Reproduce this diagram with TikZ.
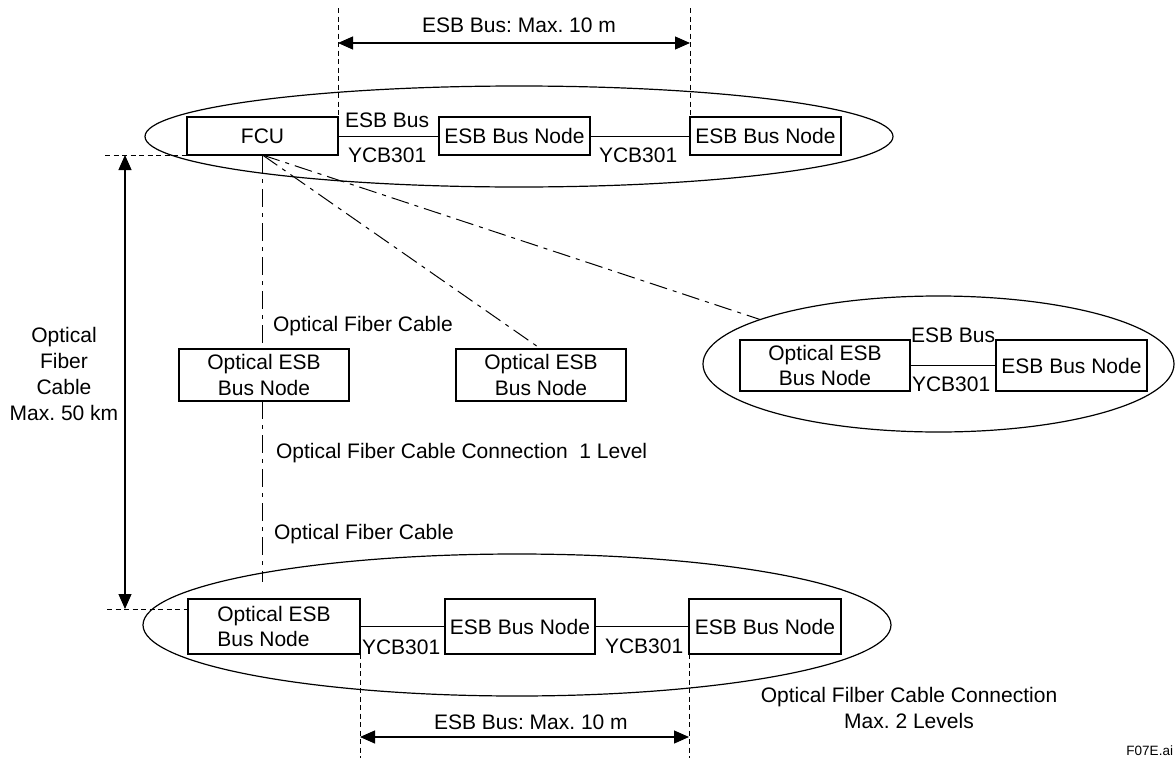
\documentclass[tikz,border=0pt]{standalone}
\usepackage{fontspec}
\setmainfont{Liberation Sans}
\usetikzlibrary{shapes.geometric,arrows.meta}

\begin{document}
\frenchspacing
\begin{tikzpicture}[x=1pt,y=-1pt,
  every node/.style={inner sep=0pt, outer sep=0pt},
  lab/.style={font=\fontsize{21}{25.7}\selectfont},
  unit/.style={draw, line width=1.2pt, fill=white, lab, align=center, minimum height=38pt},
  group/.style={draw, ellipse, line width=1.2pt},
  link/.style={line width=1pt},
  dim/.style={line width=0.9pt, dash pattern=on 5pt off 3.5pt},
  fiber/.style={line width=1pt, dash pattern=on 18pt off 6pt on 4pt off 6pt},
  span/.style={line width=1.2pt, {Triangle[length=15pt,width=13pt]}-{Triangle[length=15pt,width=13pt]}},
]
\useasboundingbox (0,0) rectangle (1176,758);

% groups of units on one ESB bus
\node[group, minimum width=748pt, minimum height=101pt] (tgrp) at (519,136.5) {};
\node[group, minimum width=471pt, minimum height=136pt] (rgrp) at (938.5,364) {};
\node[group, minimum width=748pt, minimum height=142pt] (bgrp) at (517,625) {};

% units
\node[unit, minimum width=151pt] (fcu) at (262.5,136) {FCU};
\node[unit, minimum width=151pt] (n1) at (514.5,136) {ESB Bus Node};
\node[unit, minimum width=151pt] (n2) at (765.5,136) {ESB Bus Node};
\node[unit, minimum width=170pt, minimum height=52pt] (m1) at (264,375) {Optical ESB\\Bus Node};
\node[unit, minimum width=170pt, minimum height=52pt] (m2) at (541,375) {Optical ESB\\Bus Node};
\node[unit, minimum width=170pt, minimum height=51pt] (r1) at (825,365.5) {Optical ESB\\Bus Node};
\node[unit, minimum width=151pt, minimum height=51pt] (r2) at (1071.5,365.5) {ESB Bus Node};
\node[unit, minimum width=172pt, minimum height=55pt, align=left] (b1) at (274,626.5) {Optical ESB\\Bus Node};
\node[unit, minimum width=150pt, minimum height=55pt] (b2) at (520,626.5) {ESB Bus Node};
\node[unit, minimum width=152pt, minimum height=55pt] (b3) at (765,626.5) {ESB Bus Node};

% ESB bus cables
\draw[link] (fcu.east) -- (n1.west);
\draw[link] (n1.east) -- (n2.west);
\draw[link] (r1.east) -- (r2.west);
\draw[link] (b1.east) -- (b2.west);
\draw[link] (b2.east) -- (b3.west);

% optical fiber cables
\coordinate (fend) at (262.5,582);
\draw[fiber] (fcu.south) -- (fcu.south |- m1.north);
\draw[fiber] (fcu.south |- m1.south) -- (fend);
\draw[fiber] (fcu.south) -- (m2.north);
\draw[fiber] (fcu.south) -- (rgrp.166);

% bus length, top
\coordinate (tL) at (338,8);
\coordinate (tR) at (690,8);
\coordinate (tLa) at (338,43);
\coordinate (tRa) at (690,43);
\draw[dim] (tL) -- (fcu.north east);
\draw[dim] (tR) -- (n2.north west);
\draw[span] (tLa) -- (tRa);
\node[lab, anchor=base] (tlen) at (519,32) {ESB Bus: Max. 10 m};

% bus length, bottom
\coordinate (bL) at (360,758);
\coordinate (bR) at (689,758);
\coordinate (bLa) at (360,737);
\coordinate (bRa) at (689,737);
\draw[dim] (b1.south east) -- (bL);
\draw[dim] (b3.south west) -- (bR);
\draw[span] (bLa) -- (bRa);
\node[lab, anchor=base west] (blen) at (434,729) {ESB Bus: Max. 10 m};

% fiber length
\coordinate (vT) at (125,155);
\coordinate (vB) at (125,609);
\coordinate (hT) at (105,155);
\coordinate (hB) at (107,609);
\draw[dim] (hT) -- (fcu.south west);
\draw[dim] (hB) -- (b1.west |- hB);
\draw[span] (vT) -- (vB);
\node[lab, align=center, anchor=base] (vlen) at (64,420) {Optical\\Fiber\\Cable\\Max. 50 km};

% cable labels
\node[lab, anchor=base west] (l1) at (345,127) {ESB Bus};
\node[lab, anchor=base west] (l2) at (348,162) {YCB301};
\node[lab, anchor=base west] (l3) at (599,162) {YCB301};
\node[lab, anchor=base west] (l4) at (273,331) {Optical Fiber Cable};
\node[lab, anchor=base west] (l5) at (276,458) {Optical Fiber Cable Connection\ \ 1 Level};
\node[lab, anchor=base west] (l6) at (274,539) {Optical Fiber Cable};
\node[lab, anchor=base west] (l7) at (911,342) {ESB Bus};
\node[lab, anchor=base west] (l8) at (912,391) {YCB301};
\node[lab, anchor=base west] (l9) at (362,654) {YCB301};
\node[lab, anchor=base west] (l10) at (605,653) {YCB301};
\node[lab, align=center, anchor=base] (l11) at (909,728) {Optical Filber Cable Connection\\Max. 2 Levels};

\node[font=\fontsize{13.5}{16}\selectfont, anchor=base east] (fig) at (1173,755) {F07E.ai};
\end{tikzpicture}
\end{document}
